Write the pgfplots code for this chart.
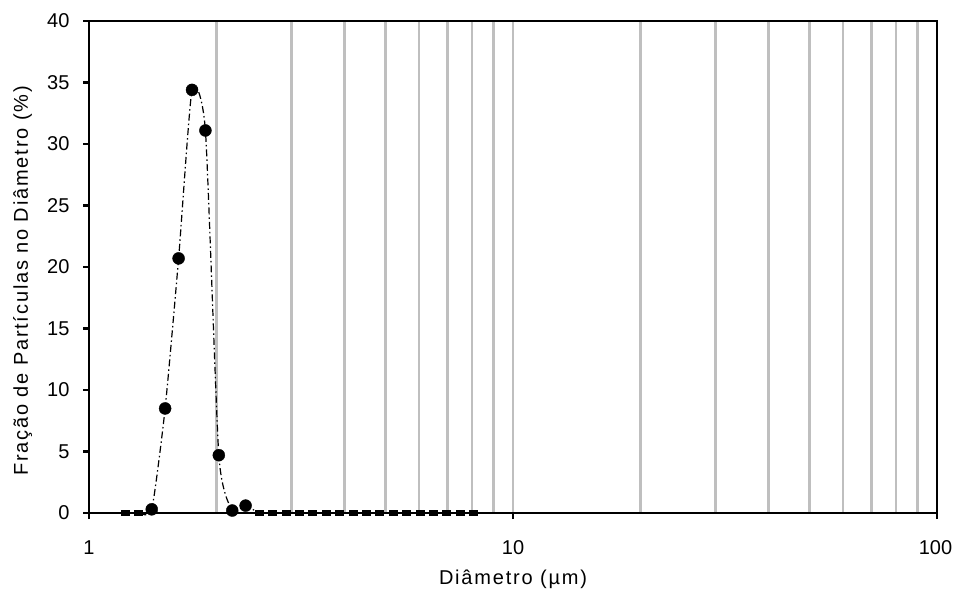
\documentclass[border=0pt]{standalone}
\usepackage{fontspec}
\setmainfont{Liberation Sans}[LetterSpace=9]
\newfontfamily\tickfont{Liberation Sans}
\usepackage{pgfplots}
\pgfplotsset{compat=1.18}
\begin{document}
\begin{tikzpicture}
\begin{axis}[
  at={(0,0)}, anchor=south west,
  scale only axis,
  width=848bp, height=492bp,
  xmode=log,
  xmin=1, xmax=100,
  ymin=0, ymax=40,
  xtick={1,10,100},
  xticklabels={1,10,\hspace*{-3bp}100},
  minor xtick={2,3,4,5,6,7,8,9,20,30,40,50,60,70,80,90},
  ytick={0,5,10,15,20,25,30,35,40},
  yticklabels={0,5,10,15,20,25,30,35,40},
  xmajorgrids=true, xminorgrids=true,
  ymajorgrids=false,
  major grid style={draw=black!25, line width=2.5bp},
  minor grid style={draw=black!25, line width=2.5bp},
  tick pos=left,
  tick align=outside,
  major tick length=6bp,
  minor tick length=0bp,
  every tick/.style={black, line width=2.5bp},
  axis line style={line width=2.7bp, black},
  xticklabel style={font=\tickfont\fontsize{20bp}{24bp}\selectfont, anchor=north, yshift=-18bp},
  yticklabel style={font=\tickfont\fontsize{20bp}{24bp}\selectfont, anchor=east, xshift=-10bp},
  xlabel={Diâmetro (µm)},
  ylabel={Fração de Partículas no Diâmetro (\%)},
  xlabel style={font=\fontsize{20bp}{24bp}\selectfont, at={(axis description cs:0.5,-0.1463)}, anchor=base},
  ylabel style={font=\fontsize{20bp}{24bp}\selectfont, at={(axis description cs:-0.0784,0.4715)}, anchor=center},
  clip=false,
]
% smoothed dash-dot line through all points
\addplot[black, line width=1.2bp, dash pattern=on 7bp off 3bp on 1.5bp off 3bp, smooth, tension=0.35, mark=none] coordinates {
(1.216,0) (1.308,0) (1.406,0.3) (1.512,8.5) (1.627,20.7) (1.750,34.4) (1.882,31.1)
(2.024,4.7) (2.177,0.2) (2.341,0.6) (2.518,0) (2.707,0) (2.912,0) (3.132,0)
(3.368,0) (3.622,0) (3.896,0) (4.190,0) (4.506,0) (4.846,0) (5.212,0)
(5.605,0) (6.028,0) (6.483,0) (6.972,0) (7.498,0) (8.064,0)
};
% nonzero points
\addplot[only marks, mark=*, mark size=6bp, black] coordinates {
(1.406,0.3) (1.512,8.5) (1.627,20.7) (1.750,34.4) (1.882,31.1)
(2.024,4.7) (2.177,0.2) (2.341,0.6)
};
% zero points
\addplot[only marks, mark=square*, mark size=2.5bp, mark options={xscale=1.6}, black] coordinates {
(1.216,0) (1.308,0) (2.518,0) (2.707,0) (2.912,0) (3.132,0)
(3.368,0) (3.622,0) (3.896,0) (4.190,0) (4.506,0) (4.846,0) (5.212,0)
(5.605,0) (6.028,0) (6.483,0) (6.972,0) (7.498,0) (8.064,0)
};
\end{axis}
\pgfresetboundingbox
\path (-89bp,-79bp) rectangle (864bp,513bp);
\end{tikzpicture}
\end{document}
